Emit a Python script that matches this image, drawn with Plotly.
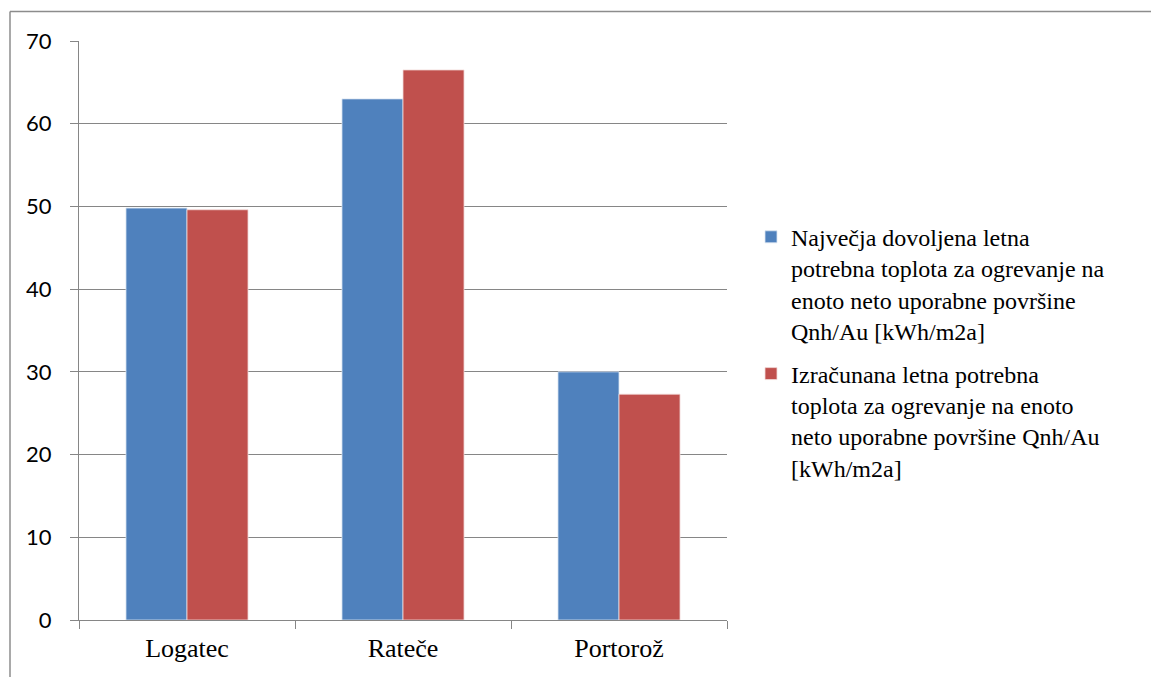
import plotly.graph_objects as go

# Climate locations and heating-demand values [kWh/m2a]
locations = ["Logatec", "Rateče", "Portorož"]
max_allowed = [49.8, 63.0, 30.0]
calculated = [49.6, 66.5, 27.3]

series_names = [
    "Največja dovoljena letna<br>potrebna toplota za ogrevanje na<br>enoto neto uporabne površine<br>Qnh/Au [kWh/m2a]",
    "Izračunana letna potrebna<br>toplota za ogrevanje na enoto<br>neto uporabne površine Qnh/Au<br>[kWh/m2a]",
]
y_ticks = [0, 10, 20, 30, 40, 50, 60, 70]

W, H = 1151, 677
ML, MR, MT, MB = 79, 424, 41, 57

fig = go.Figure()
fig.add_trace(go.Bar(
    x=locations, y=max_allowed, name=series_names[0], legendgroup="a",
    marker=dict(color="#4F81BD", line=dict(color="#DCE6F2", width=0.8)),
))
fig.add_trace(go.Bar(
    x=locations, y=calculated, name=series_names[1], legendgroup="b",
    marker=dict(color="#C0504D", line=dict(color="#F2DCDB", width=0.8)),
))

grid = "#868686"
pw = W - ML - MR
ph = H - MT - MB

# outer frame (left and top edges only visible)
fx0 = (10 - ML) / pw
fy1 = 1 + (MT - 11.5) / ph
fy0 = -(MB + 5) / ph
fx1 = 1 + (MR + 5) / pw
fig.add_shape(type="line", xref="paper", yref="paper", x0=fx0, x1=fx0, y0=fy0, y1=fy1,
              line=dict(color="#8C8C8C", width=1.5))
fig.add_shape(type="line", xref="paper", yref="paper", x0=fx0, x1=fx1, y0=fy1, y1=fy1,
              line=dict(color="#8C8C8C", width=1.5))

fig.update_layout(
    width=W, height=H,
    margin=dict(l=ML, r=MR, t=MT, b=MB, pad=0),
    paper_bgcolor="white", plot_bgcolor="white",
    barmode="group", bargap=0.435, bargroupgap=0,
    showlegend=True,
    legend=dict(
        x=1 + (751 - (W - MR)) / pw, y=0.70, xanchor="left", yanchor="top",
        font=dict(family="Liberation Serif", size=24, color="black"),
        valign="top", tracegroupgap=9, itemwidth=30,
        bgcolor="rgba(0,0,0,0)",
    ),
    xaxis=dict(
        type="category",
        showline=True, linecolor=grid, linewidth=1,
        ticks="outside", tickson="boundaries", ticklen=8, tickcolor=grid, tickwidth=1,
        tickfont=dict(family="Liberation Serif", size=26, color="black"),
        ticklabelstandoff=5,
        showgrid=False,
    ),
    yaxis=dict(
        range=[0, 70], tickvals=y_ticks,
        showline=True, linecolor=grid, linewidth=1,
        showgrid=True, gridcolor=grid, gridwidth=1,
        ticks="outside", ticklen=8, tickcolor=grid, tickwidth=1,
        tickfont=dict(family="Lato", size=22, color="black"),
        ticklabelstandoff=14,
        zeroline=False,
    ),
)

fig.write_html("out.html")
